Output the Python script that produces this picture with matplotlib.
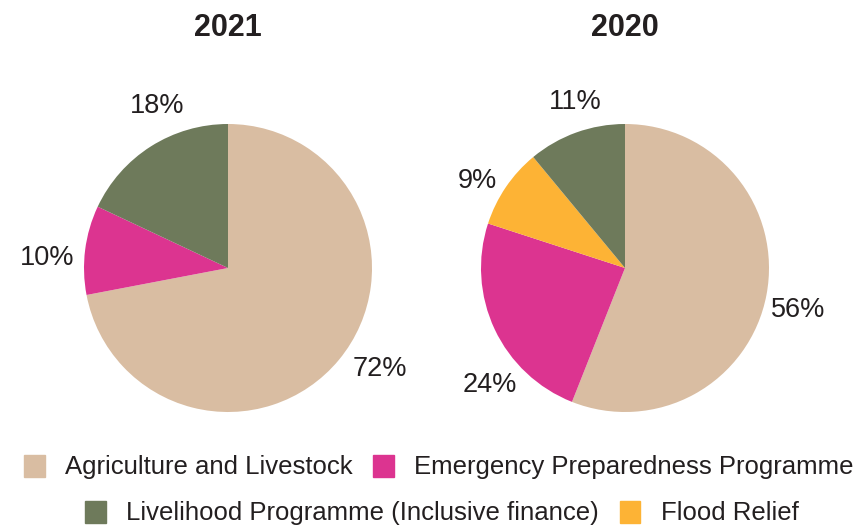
import matplotlib.pyplot as plt
from matplotlib.patches import Patch

plt.rcParams['font.family'] = ['Liberation Sans', 'DejaVu Sans']

categories = ['Agriculture and Livestock', 'Emergency Preparedness Programme',
              'Livelihood Programme (Inclusive finance)', 'Flood Relief']
colors = ['#D9BDA2', '#DC3490', '#6E7A5B', '#FDB335']

# 2021 has no flood relief slice
values_2021 = [72, 10, 18]
colors_2021 = [colors[0], colors[1], colors[2]]
values_2020 = [56, 24, 9, 11]
colors_2020 = [colors[0], colors[1], colors[3], colors[2]]

# label spots in units of the pie radius (hand placed like the original)
label_pos_2021 = [(1.056, -0.70), (-1.257, 0.069), (-0.493, 1.125)]
label_pos_2020 = [(1.201, -0.292), (-0.9375, -0.81), (-1.028, 0.604), (-0.347, 1.150)]

fig = plt.figure(figsize=(8.6, 5.26), dpi=100)

def draw_pie(rect, vals, cols, title, label_pos):
    ax = fig.add_axes(rect)
    wedges, texts, pcts = ax.pie(vals, colors=cols, startangle=90, counterclock=False,
                                 autopct='%d%%', pctdistance=1.25,
                                 textprops={'fontsize': 19.5, 'color': '#231f20'},
                                 wedgeprops={'linewidth': 0})
    for t, p in zip(pcts, label_pos):
        t.set_position(p)
    ax.set_xlim(-1, 1)
    ax.set_ylim(-1, 1)
    ax.set_aspect('equal')
    ax.text(0, 1 + (268 - 144 - 28) / 144.0, title, fontsize=22, fontweight='bold',
            ha='center', va='center', color='#231f20')
    return ax

draw_pie([84 / 860, 114 / 526, 288 / 860, 288 / 526], values_2021, colors_2021, '2021', label_pos_2021)
draw_pie([481 / 860, 114 / 526, 288 / 860, 288 / 526], values_2020, colors_2020, '2020', label_pos_2020)

row1 = [Patch(color=colors[0]), Patch(color=colors[1])]
row2 = [Patch(color=colors[2]), Patch(color=colors[3])]
leg_kw = dict(frameon=False, fontsize=18.5, handlelength=0.8, handleheight=0.96,
              handletextpad=0.8, columnspacing=0.8, borderpad=0, borderaxespad=0,
              loc='center', labelcolor='#231f20')
fig.legend(row1, categories[:2], ncol=2, bbox_to_anchor=(439 / 860, 1 - 467 / 526), **leg_kw)
fig.legend(row2, categories[2:], ncol=2, bbox_to_anchor=(442 / 860, 1 - 513 / 526), **leg_kw)

fig.savefig('out.png', dpi=100)
